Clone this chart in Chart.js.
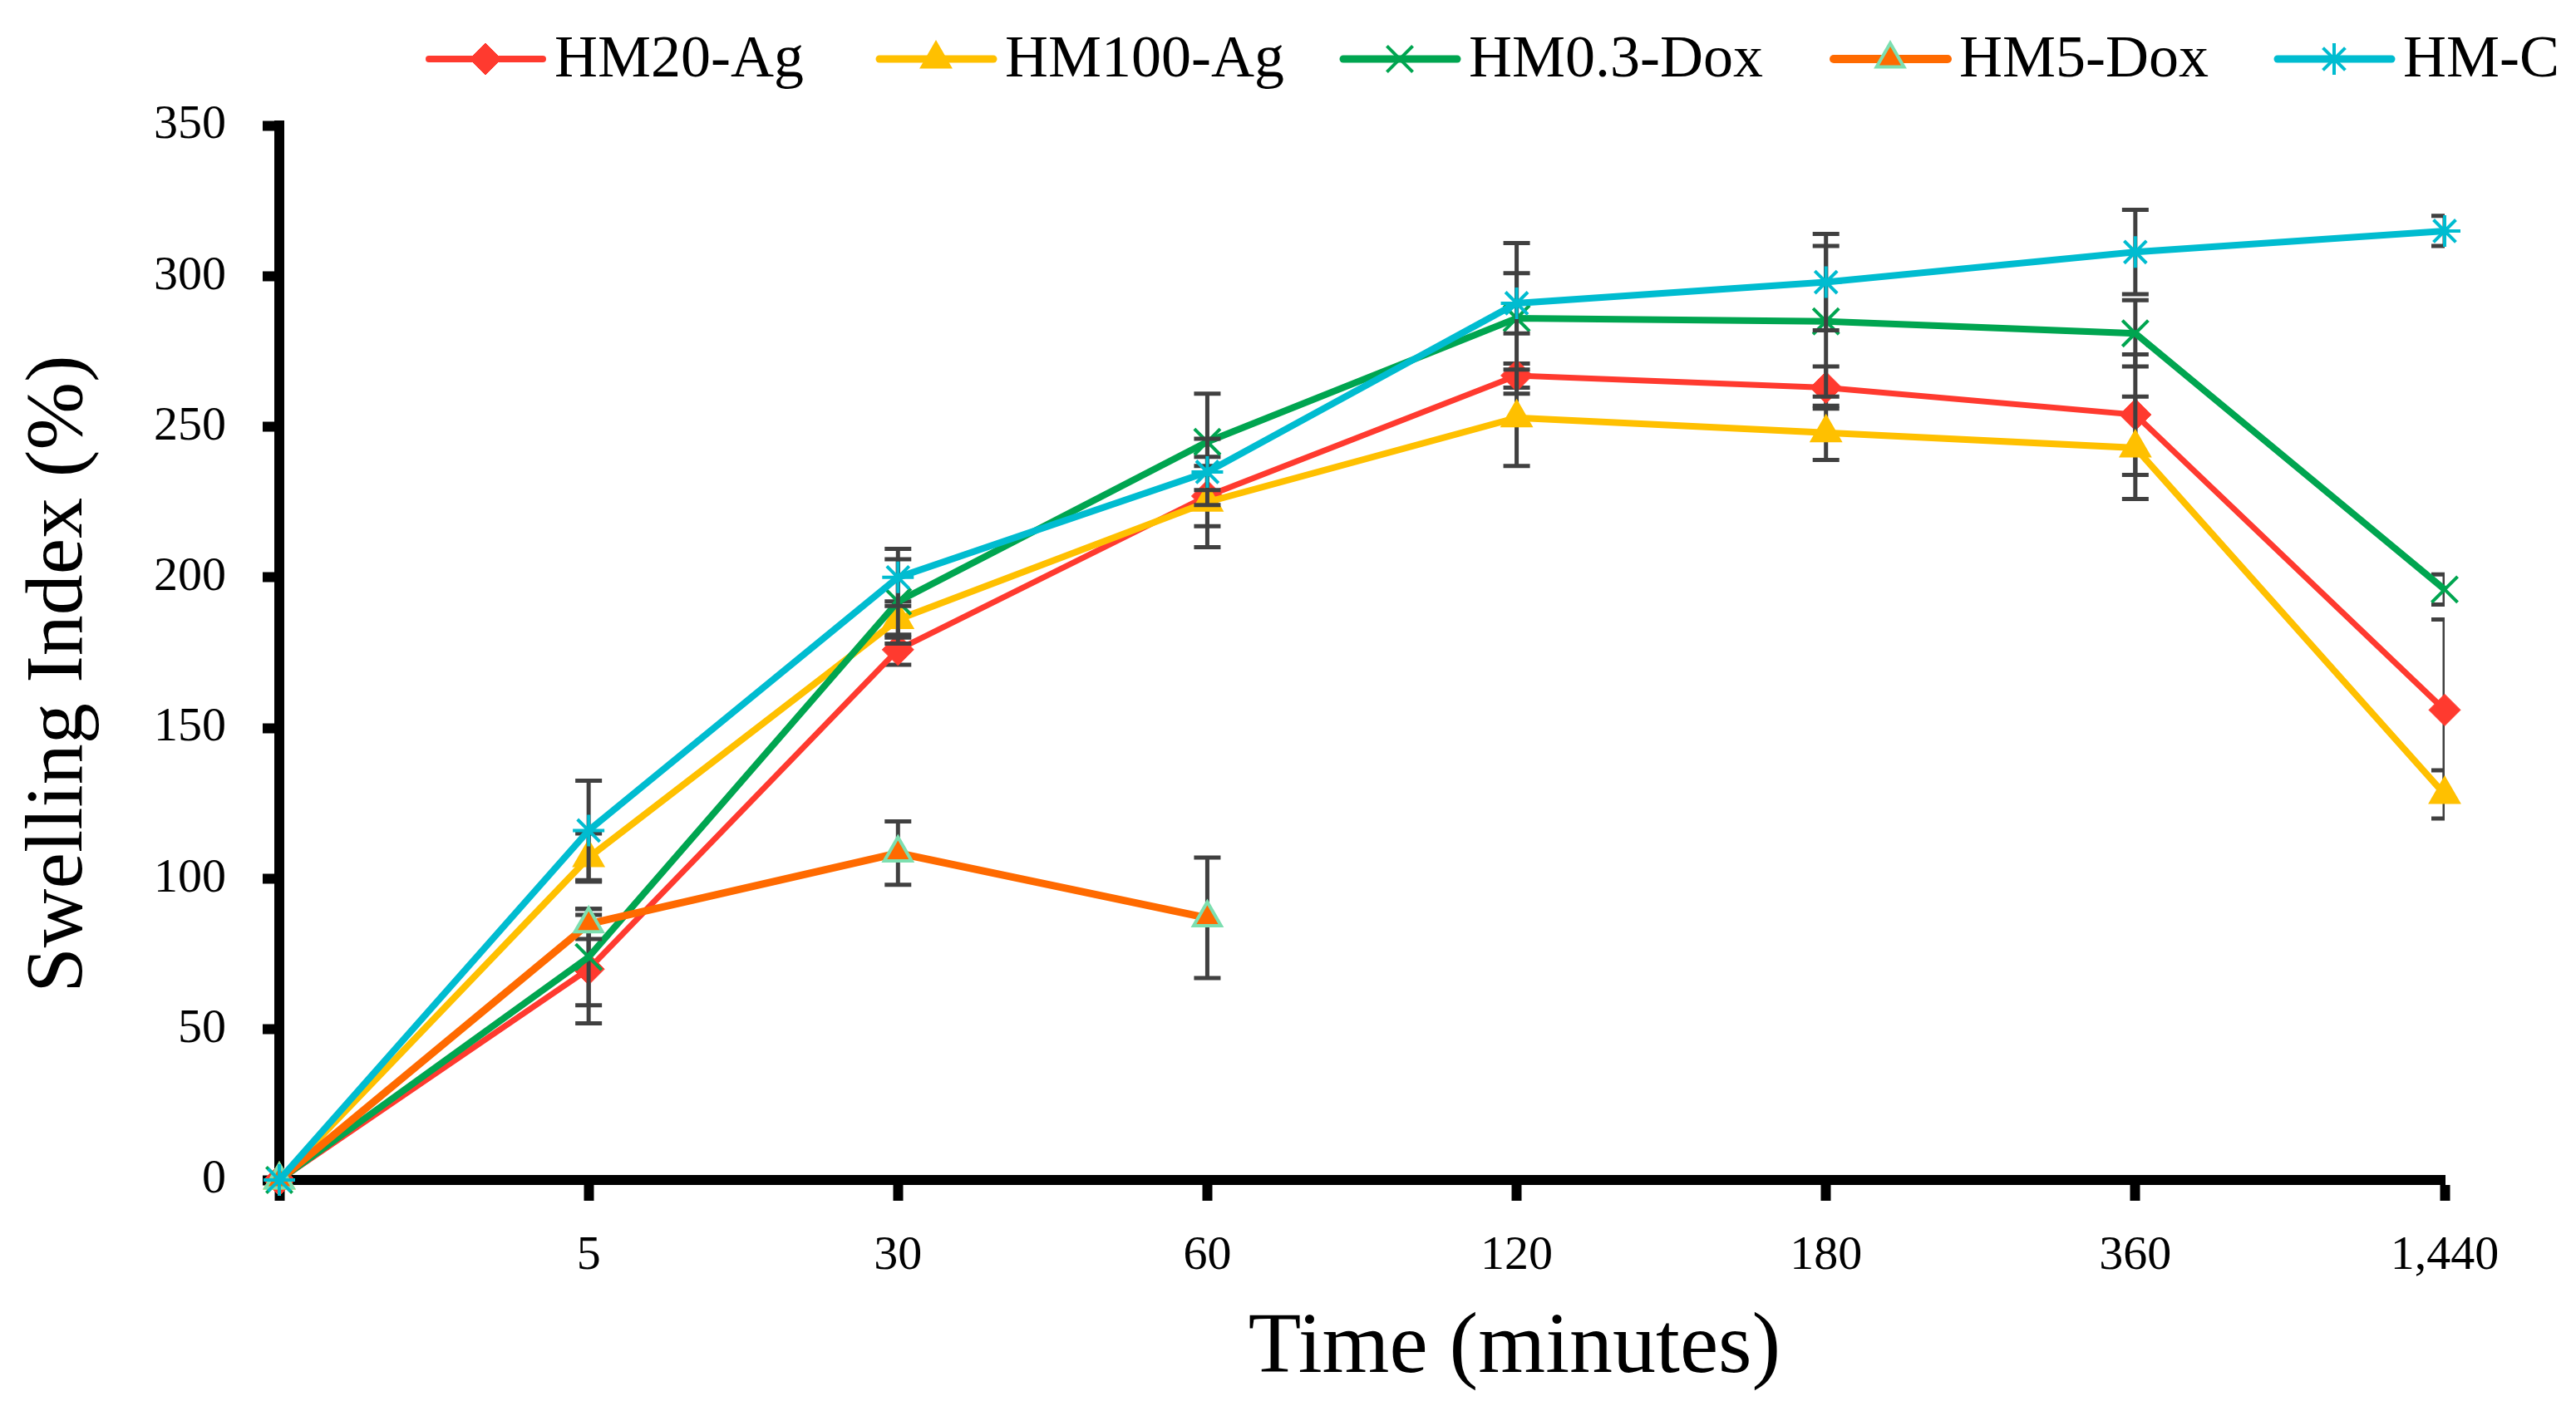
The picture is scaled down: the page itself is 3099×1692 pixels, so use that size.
<!DOCTYPE html>
<html>
<head>
<meta charset="utf-8">
<title>Swelling Index</title>
<script src="https://cdn.jsdelivr.net/npm/chart.js@4.4.1/dist/chart.umd.min.js"></script>
<style>
  html, body { margin: 0; padding: 0; background: #fff; }
  #wrap { width: 3099px; height: 1692px; }
</style>
</head>
<body>
<div id="wrap"><canvas id="swellChart" width="3099" height="1692"></canvas></div>
<script>
// time points (minutes); the first one is t = 0, left unlabeled
const timeLabels = ['', '5', '30', '60', '120', '180', '360', '1,440'];
const yTicks = [0, 50, 100, 150, 200, 250, 300, 350];

const seriesNames = ['HM20-Ag', 'HM100-Ag', 'HM0.3-Dox', 'HM5-Dox', 'HM-C'];

const hm20Ag     = [0, 70, 176, 227, 267, 263, 254, 156];
const hm20AgErr  = [0, 18, 5, 10, 4, 7, 20, 30];
const hm100Ag    = [0, 107, 186, 225, 253, 248, 243, 128];
const hm100AgErr = [0, 8, 6, 15, 16, 9, 17, 8];
const hm03Dox    = [0, 74, 192, 245, 286, 285, 281, 196];
const hm03DoxErr = [0, 16, 14, 16, 25, 25, 11, 5];
const hm5Dox     = [0, 85, 108.5, 87, null, null, null, null];
const hm5DoxErr  = [0, 5, 10.5, 20, 0, 0, 0, 0];
const hmC        = [0, 116, 200, 235, 291, 298, 308, 315];
const hmCErr     = [0, 16.5, 9.5, 11, 10, 16, 14, 5];

const FONT = '"Liberation Serif", "Times New Roman", serif';

// legend layout (left edge of each line sample)
const legendX = [512, 1054, 1612, 2202, 2736];
const legendY = 71;

function makeSet(label, data, errs, color, style) {
    return Object.assign({
        label: label,
        data: data,
        errorBars: errs,
        borderColor: color,
        backgroundColor: color,
        pointBackgroundColor: color,
        pointBorderColor: color,
        borderWidth: 8,
        tension: 0,
        clip: false,
        spanGaps: false
    }, style);
}

const datasets = [
    makeSet(seriesNames[0], hm20Ag, hm20AgErr, '#FF3A2F',
        { pointStyle: 'rectRot', pointRadius: 19, pointBorderWidth: 1, borderWidth: 7, order: 4 }),
    makeSet(seriesNames[1], hm100Ag, hm100AgErr, '#FFC000',
        { pointStyle: 'triangle', pointRadius: 21, pointBorderWidth: 2, order: 3 }),
    makeSet(seriesNames[2], hm03Dox, hm03DoxErr, '#00A550',
        { pointStyle: 'crossRot', pointRadius: 22, pointBorderWidth: 4, order: 2 }),
    makeSet(seriesNames[3], hm5Dox, hm5DoxErr, '#FF6A00',
        { pointStyle: 'triangle', pointRadius: 19, pointBorderWidth: 4,
          pointBorderColor: '#7DDFB0', borderWidth: 9, order: 1 }),
    makeSet(seriesNames[4], hmC, hmCErr, '#00BCD0',
        { pointStyle: 'star', pointRadius: 19, pointBorderWidth: 4, order: 0 })
];

// vertical error bars, drawn under each series' own line and markers
const errorBarPlugin = {
    id: 'errorBars',
    beforeDatasetDraw(chart, args) {
        const ds = chart.data.datasets[args.index];
        const errs = ds.errorBars;
        if (!errs) return;
        const yScale = chart.scales.y;
        const area = chart.chartArea;
        const ctx = chart.ctx;
        ctx.save();
        ctx.beginPath();
        ctx.rect(area.left, 0, area.right - area.left, chart.height);
        ctx.clip();
        ctx.strokeStyle = '#404040';
        ctx.lineWidth = 5;
        args.meta.data.forEach((pt, j) => {
            const v = ds.data[j];
            const e = errs[j];
            if (v === null || !e) return;
            const top = yScale.getPixelForValue(v + e);
            const bot = yScale.getPixelForValue(v - e);
            ctx.beginPath();
            ctx.moveTo(pt.x, top);
            ctx.lineTo(pt.x, bot);
            ctx.moveTo(pt.x - 16, top);
            ctx.lineTo(pt.x + 16, top);
            ctx.moveTo(pt.x - 16, bot);
            ctx.lineTo(pt.x + 16, bot);
            ctx.stroke();
        });
        ctx.restore();
    }
};

// legend with line + marker samples, plus the two axis titles
const decorPlugin = {
    id: 'decor',
    afterDraw(chart) {
        const ctx = chart.ctx;
        ctx.save();
        chart.data.datasets.forEach((ds, i) => {
            const x0 = legendX[i];
            ctx.strokeStyle = ds.borderColor;
            ctx.lineWidth = ds.borderWidth + 1;
            ctx.lineCap = 'round';
            ctx.beginPath();
            ctx.moveTo(x0 + 4, legendY);
            ctx.lineTo(x0 + 141, legendY);
            ctx.stroke();
            ctx.lineCap = 'butt';
            ctx.fillStyle = ds.pointBackgroundColor;
            ctx.strokeStyle = ds.pointBorderColor;
            ctx.lineWidth = ds.pointBorderWidth;
            Chart.helpers.drawPoint(ctx, {
                pointStyle: ds.pointStyle,
                rotation: 0,
                radius: ds.pointRadius,
                borderWidth: ds.pointBorderWidth
            }, x0 + 72, legendY);
            ctx.fillStyle = '#000';
            ctx.font = '72px ' + FONT;
            ctx.textAlign = 'left';
            ctx.textBaseline = 'alphabetic';
            ctx.fillText(ds.label, x0 + 155, 92);
        });

        ctx.fillStyle = '#000';
        ctx.font = '104px ' + FONT;
        ctx.textAlign = 'center';
        ctx.textBaseline = 'alphabetic';
        ctx.fillText('Time (minutes)', 1822, 1651);

        ctx.translate(98, 811);
        ctx.rotate(-Math.PI / 2);
        ctx.font = '98px ' + FONT;
        ctx.fillText('Swelling Index (%)', 0, 0);
        ctx.restore();
    }
};

const ctx = document.getElementById('swellChart').getContext('2d');
new Chart(ctx, {
    type: 'line',
    data: { labels: timeLabels, datasets: datasets },
    plugins: [errorBarPlugin, decorPlugin],
    options: {
        responsive: false,
        animation: false,
        devicePixelRatio: 1,
        layout: { padding: { top: 151, left: 0, right: 0, bottom: 0 } },
        plugins: {
            legend: { display: false },
            tooltip: { enabled: false }
        },
        scales: {
            x: {
                type: 'category',
                offset: false,
                afterFit(scale) {
                    scale.height = 272;
                    scale.paddingRight = 158;
                    scale.paddingLeft = 0;
                },
                border: { display: true, color: '#000', width: 12 },
                grid: {
                    display: true,
                    drawOnChartArea: false,
                    drawTicks: true,
                    tickLength: 25,
                    tickWidth: 12,
                    tickColor: '#000'
                },
                ticks: {
                    autoSkip: false,
                    maxRotation: 0,
                    padding: 32,
                    color: '#000',
                    font: { family: FONT, size: 58 }
                }
            },
            y: {
                min: yTicks[0],
                max: yTicks[yTicks.length - 1],
                afterFit(scale) {
                    scale.width = 336;
                },
                afterBuildTicks(scale) {
                    scale.ticks = yTicks.map(v => ({ value: v }));
                },
                border: { display: true, color: '#000', width: 12 },
                grid: {
                    display: true,
                    drawOnChartArea: false,
                    drawTicks: true,
                    tickLength: 20,
                    tickWidth: 12,
                    tickColor: '#000'
                },
                ticks: {
                    padding: 44,
                    color: '#000',
                    font: { family: FONT, size: 58 }
                }
            }
        }
    }
});
</script>
</body>
</html>
